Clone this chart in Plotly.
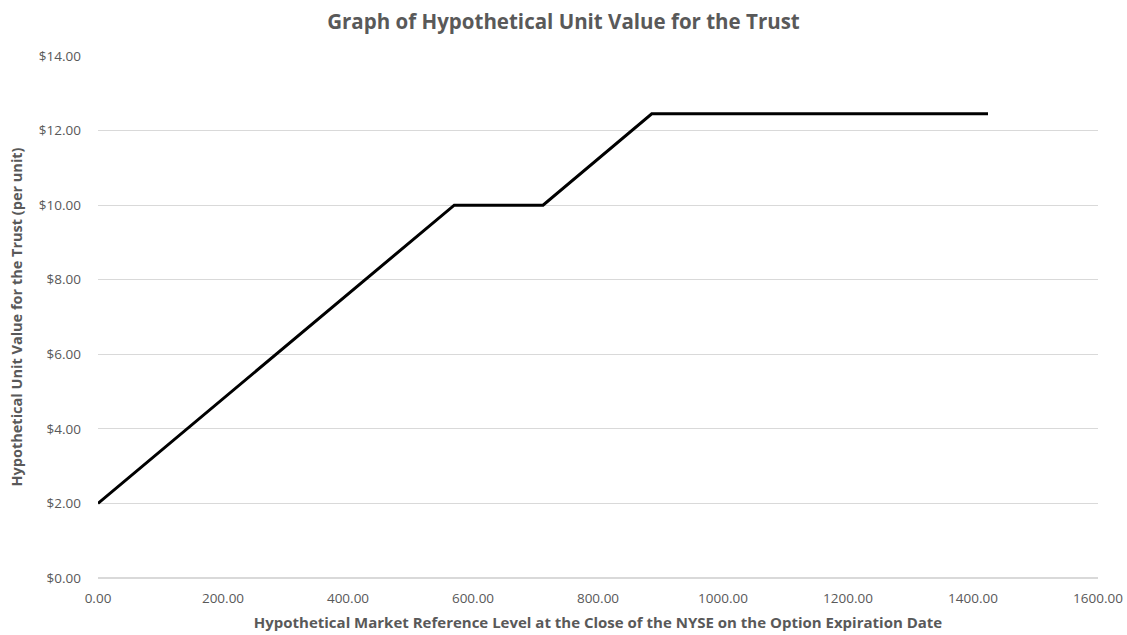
import plotly.graph_objects as go

market_level = [0, 500, 570, 712, 886, 1424]
unit_value = [2.00, 9.00, 10.00, 10.00, 12.45, 12.45]

x_ticks = [0, 200, 400, 600, 800, 1000, 1200, 1400, 1600]
y_ticks = [0, 2, 4, 6, 8, 10, 12, 14]

fig = go.Figure()
fig.add_trace(go.Scatter(
    x=market_level, y=unit_value, mode="lines",
    line=dict(color="#000000", width=3), showlegend=False, hoverinfo="skip"))

font_fam = "Open Sans, Lato, sans-serif"
fig.update_layout(
    width=1127, height=635,
    paper_bgcolor="white", plot_bgcolor="white",
    margin=dict(l=98, r=29, t=56, b=57, autoexpand=False),
    title=dict(text="<b>Graph of Hypothetical Unit Value for the Trust</b>",
               x=0.5, xanchor="center", xref="container",
               y=0.965, yanchor="middle", yref="container",
               font=dict(family=font_fam, size=20.5, color="#595959")),
    font=dict(family=font_fam, color="#595959"),
)
fig.update_xaxes(
    range=[0, 1600], tickvals=x_ticks, ticktext=[f"{v:.2f}" for v in x_ticks],
    showgrid=False, zeroline=False, showline=False, ticks="",
    ticklabelstandoff=10,
    tickfont=dict(size=13.5, color="#595959"),
    title=dict(text="<b>Hypothetical Market Reference Level at the Close of the NYSE on the Option Expiration Date</b>",
               font=dict(size=15, color="#595959"), standoff=11),
)
fig.update_yaxes(
    range=[0, 14], tickvals=y_ticks, ticktext=[f"${v:.2f}" for v in y_ticks],
    showgrid=True, gridcolor="#d9d9d9", gridwidth=1, zeroline=True, zerolinecolor="#d9d9d9",
    showline=False, ticks="", ticklabelstandoff=16,
    tickfont=dict(size=13.5, color="#595959"),
    title=dict(text="<b>Hypothetical Unit Value for the Trust (per unit)</b>",
               font=dict(size=14.5, color="#595959"), standoff=12),
)
fig.write_html("out.html", config={"displayModeBar": False},
               post_script="document.body.style.margin='0';document.body.style.overflow='hidden';")
